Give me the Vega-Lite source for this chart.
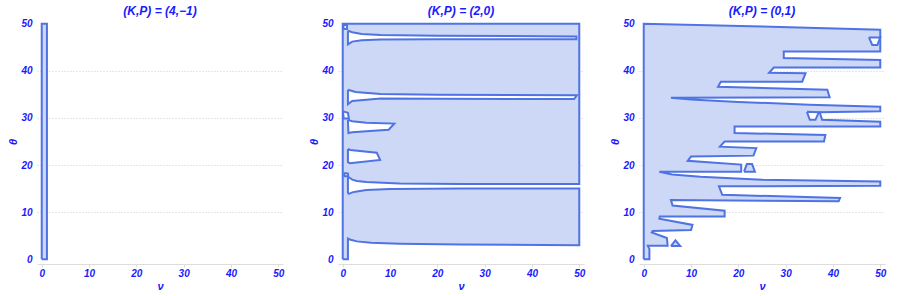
{
 "$schema": "https://vega.github.io/schema/vega-lite/v6.json",
 "background": "white",
 "padding": {"left": 7, "top": 4, "right": 5, "bottom": 0},
 "spacing": 24,
 "config": {
  "view": {"stroke": null},
  "font": "Liberation Sans",
  "axis": {"labelFont": "Liberation Sans", "labelFontWeight": "bold", "labelFontStyle": "italic", "labelColor": "#1a1aff", "labelFontSize": 10, "titleFont": "Liberation Sans", "titleFontWeight": "bold", "titleFontStyle": "italic", "titleColor": "#1a1aff", "titleFontSize": 11},
  "axisX": {"domainColor": "#dddddd", "tickColor": "#dddddd", "tickSize": 3, "grid": false, "labelPadding": 1, "titlePadding": 2},
  "axisY": {"domain": false, "ticks": false, "grid": true, "gridColor": "#cccccc", "gridDash": [1, 2], "labelPadding": 5, "titlePadding": 2},
  "title": {"font": "Liberation Sans", "fontWeight": "bold", "fontStyle": "italic", "color": "#1a1aff", "fontSize": 12, "offset": 1}
 },
 "datasets": {
  "shapes": [
   {"p":1,"g":"m1","k":"fill","i":0,"nu":0,"th":0},
   {"p":1,"g":"m1","k":"fill","i":1,"nu":1.1,"th":0},
   {"p":1,"g":"m1","k":"fill","i":2,"nu":1.1,"th":50},
   {"p":1,"g":"m1","k":"fill","i":3,"nu":0,"th":50},
   {"p":1,"g":"m1","k":"fill","i":4,"nu":0,"th":0},

   {"p":2,"g":"m2","k":"fill","i":0,"nu":0,"th":0},
   {"p":2,"g":"m2","k":"fill","i":1,"nu":1.1,"th":0},
   {"p":2,"g":"m2","k":"fill","i":2,"nu":1.1,"th":4.4},
   {"p":2,"g":"m2","k":"fill","i":3,"nu":1.5,"th":4.2},
   {"p":2,"g":"m2","k":"fill","i":4,"nu":3,"th":3.8},
   {"p":2,"g":"m2","k":"fill","i":5,"nu":6,"th":3.5},
   {"p":2,"g":"m2","k":"fill","i":6,"nu":12,"th":3.3},
   {"p":2,"g":"m2","k":"fill","i":7,"nu":25,"th":3.15},
   {"p":2,"g":"m2","k":"fill","i":8,"nu":50,"th":3.0},
   {"p":2,"g":"m2","k":"fill","i":9,"nu":50,"th":15.0},
   {"p":2,"g":"m2","k":"fill","i":10,"nu":25,"th":15.0},
   {"p":2,"g":"m2","k":"fill","i":11,"nu":10,"th":14.9},
   {"p":2,"g":"m2","k":"fill","i":12,"nu":5,"th":14.7},
   {"p":2,"g":"m2","k":"fill","i":13,"nu":3,"th":14.4},
   {"p":2,"g":"m2","k":"fill","i":14,"nu":2,"th":14.2},
   {"p":2,"g":"m2","k":"fill","i":15,"nu":1.3,"th":13.9},
   {"p":2,"g":"m2","k":"fill","i":16,"nu":1.1,"th":14.1},
   {"p":2,"g":"m2","k":"fill","i":17,"nu":1.1,"th":17.5},
   {"p":2,"g":"m2","k":"fill","i":18,"nu":1.3,"th":17.4},
   {"p":2,"g":"m2","k":"fill","i":19,"nu":2,"th":16.9},
   {"p":2,"g":"m2","k":"fill","i":20,"nu":3,"th":16.6},
   {"p":2,"g":"m2","k":"fill","i":21,"nu":5,"th":16.4},
   {"p":2,"g":"m2","k":"fill","i":22,"nu":12,"th":16.1},
   {"p":2,"g":"m2","k":"fill","i":23,"nu":25,"th":16.0},
   {"p":2,"g":"m2","k":"fill","i":24,"nu":50,"th":16.0},
   {"p":2,"g":"m2","k":"fill","i":25,"nu":50,"th":50},
   {"p":2,"g":"m2","k":"fill","i":26,"nu":0,"th":50},
   {"p":2,"g":"m2","k":"fill","i":27,"nu":0,"th":0},

   {"p":2,"g":"h1","k":"hole","i":0,"nu":1.1,"th":48.5},
   {"p":2,"g":"h1","k":"hole","i":1,"nu":2,"th":48.2},
   {"p":2,"g":"h1","k":"hole","i":2,"nu":4,"th":47.8},
   {"p":2,"g":"h1","k":"hole","i":3,"nu":8,"th":47.6},
   {"p":2,"g":"h1","k":"hole","i":4,"nu":20,"th":47.45},
   {"p":2,"g":"h1","k":"hole","i":5,"nu":49.4,"th":47.3},
   {"p":2,"g":"h1","k":"hole","i":6,"nu":49.4,"th":46.7},
   {"p":2,"g":"h1","k":"hole","i":7,"nu":20,"th":46.7},
   {"p":2,"g":"h1","k":"hole","i":8,"nu":8,"th":46.65},
   {"p":2,"g":"h1","k":"hole","i":9,"nu":4,"th":46.5},
   {"p":2,"g":"h1","k":"hole","i":10,"nu":2,"th":46.2},
   {"p":2,"g":"h1","k":"hole","i":11,"nu":1.1,"th":45.6},
   {"p":2,"g":"h1","k":"hole","i":12,"nu":1.1,"th":48.5},

   {"p":2,"g":"h2","k":"hole","i":0,"nu":1.1,"th":36.0},
   {"p":2,"g":"h2","k":"hole","i":1,"nu":2.7,"th":35.5},
   {"p":2,"g":"h2","k":"hole","i":2,"nu":8,"th":35.1},
   {"p":2,"g":"h2","k":"hole","i":3,"nu":20,"th":34.9},
   {"p":2,"g":"h2","k":"hole","i":4,"nu":49.5,"th":34.8},
   {"p":2,"g":"h2","k":"hole","i":5,"nu":48.9,"th":34.0},
   {"p":2,"g":"h2","k":"hole","i":6,"nu":20,"th":34.05},
   {"p":2,"g":"h2","k":"hole","i":7,"nu":8,"th":34.1},
   {"p":2,"g":"h2","k":"hole","i":8,"nu":2,"th":33.6},
   {"p":2,"g":"h2","k":"hole","i":9,"nu":1.1,"th":32.9},
   {"p":2,"g":"h2","k":"hole","i":10,"nu":1.1,"th":36.0},

   {"p":2,"g":"h3","k":"hole","i":0,"nu":0.05,"th":31.4},
   {"p":2,"g":"h3","k":"hole","i":1,"nu":1.1,"th":31.1},
   {"p":2,"g":"h3","k":"hole","i":2,"nu":1.3,"th":29.9},
   {"p":2,"g":"h3","k":"hole","i":3,"nu":0.2,"th":29.9},
   {"p":2,"g":"h3","k":"hole","i":4,"nu":0.05,"th":31.4},

   {"p":2,"g":"h4","k":"hole","i":0,"nu":1.1,"th":29.6},
   {"p":2,"g":"h4","k":"hole","i":1,"nu":2,"th":29.3},
   {"p":2,"g":"h4","k":"hole","i":2,"nu":5,"th":29.0},
   {"p":2,"g":"h4","k":"hole","i":3,"nu":10.9,"th":28.8},
   {"p":2,"g":"h4","k":"hole","i":4,"nu":9.7,"th":27.5},
   {"p":2,"g":"h4","k":"hole","i":5,"nu":5,"th":27.2},
   {"p":2,"g":"h4","k":"hole","i":6,"nu":2,"th":26.95},
   {"p":2,"g":"h4","k":"hole","i":7,"nu":1.2,"th":26.8},
   {"p":2,"g":"h4","k":"hole","i":8,"nu":1.1,"th":29.6},

   {"p":2,"g":"h5","k":"hole","i":0,"nu":1.1,"th":23.4},
   {"p":2,"g":"h5","k":"hole","i":1,"nu":1.6,"th":23.2},
   {"p":2,"g":"h5","k":"hole","i":2,"nu":7.2,"th":22.6},
   {"p":2,"g":"h5","k":"hole","i":3,"nu":7.9,"th":21.1},
   {"p":2,"g":"h5","k":"hole","i":4,"nu":1.5,"th":20.4},
   {"p":2,"g":"h5","k":"hole","i":5,"nu":1.1,"th":20.6},
   {"p":2,"g":"h5","k":"hole","i":6,"nu":1.1,"th":23.4},

   {"p":2,"g":"h6","k":"hole","i":0,"nu":0.3,"th":18.3},
   {"p":2,"g":"h6","k":"hole","i":1,"nu":1.1,"th":18.2},
   {"p":2,"g":"h6","k":"hole","i":2,"nu":1.1,"th":17.6},
   {"p":2,"g":"h6","k":"hole","i":3,"nu":0.4,"th":17.6},
   {"p":2,"g":"h6","k":"hole","i":4,"nu":0.3,"th":18.3},

   {"p":2,"g":"h7","k":"hole","i":0,"nu":0.1,"th":49.9},
   {"p":2,"g":"h7","k":"hole","i":1,"nu":0.9,"th":49.7},
   {"p":2,"g":"h7","k":"hole","i":2,"nu":0.9,"th":48.9},
   {"p":2,"g":"h7","k":"hole","i":3,"nu":0.2,"th":48.9},
   {"p":2,"g":"h7","k":"hole","i":4,"nu":0.1,"th":49.9},

   {"p":3,"g":"m3","k":"fill","i":0,"nu":0,"th":0},
   {"p":3,"g":"m3","k":"fill","i":1,"nu":1.2,"th":0},
   {"p":3,"g":"m3","k":"fill","i":2,"nu":1.2,"th":2.2},
   {"p":3,"g":"m3","k":"fill","i":3,"nu":0.85,"th":2.9},
   {"p":3,"g":"m3","k":"fill","i":4,"nu":5.05,"th":2.9},
   {"p":3,"g":"m3","k":"fill","i":5,"nu":4.9,"th":4.5},
   {"p":3,"g":"m3","k":"fill","i":6,"nu":1.7,"th":5.7},
   {"p":3,"g":"m3","k":"fill","i":7,"nu":1.9,"th":6.0},
   {"p":3,"g":"m3","k":"fill","i":8,"nu":10.0,"th":6.2},
   {"p":3,"g":"m3","k":"fill","i":9,"nu":10.3,"th":7.3},
   {"p":3,"g":"m3","k":"fill","i":10,"nu":3.3,"th":8.6},
   {"p":3,"g":"m3","k":"fill","i":11,"nu":3.4,"th":9.1},
   {"p":3,"g":"m3","k":"fill","i":12,"nu":17.1,"th":9.1},
   {"p":3,"g":"m3","k":"fill","i":13,"nu":17.1,"th":10.3},
   {"p":3,"g":"m3","k":"fill","i":14,"nu":6.1,"th":11.4},
   {"p":3,"g":"m3","k":"fill","i":15,"nu":5.75,"th":12.6},
   {"p":3,"g":"m3","k":"fill","i":16,"nu":41.2,"th":12.3},
   {"p":3,"g":"m3","k":"fill","i":17,"nu":41.5,"th":13.0},
   {"p":3,"g":"m3","k":"fill","i":18,"nu":16.6,"th":13.7},
   {"p":3,"g":"m3","k":"fill","i":19,"nu":15.9,"th":15.5},
   {"p":3,"g":"m3","k":"fill","i":20,"nu":50,"th":15.6},
   {"p":3,"g":"m3","k":"fill","i":21,"nu":50,"th":16.5},
   {"p":3,"g":"m3","k":"fill","i":22,"nu":25,"th":16.9},
   {"p":3,"g":"m3","k":"fill","i":23,"nu":12,"th":17.5},
   {"p":3,"g":"m3","k":"fill","i":24,"nu":6,"th":18.0},
   {"p":3,"g":"m3","k":"fill","i":25,"nu":3.3,"th":18.6},
   {"p":3,"g":"m3","k":"fill","i":26,"nu":20.6,"th":18.6},
   {"p":3,"g":"m3","k":"fill","i":27,"nu":20.6,"th":20.1},
   {"p":3,"g":"m3","k":"fill","i":28,"nu":9.3,"th":20.9},
   {"p":3,"g":"m3","k":"fill","i":29,"nu":10.0,"th":21.8},
   {"p":3,"g":"m3","k":"fill","i":30,"nu":23.2,"th":22.0},
   {"p":3,"g":"m3","k":"fill","i":31,"nu":23.8,"th":23.6},
   {"p":3,"g":"m3","k":"fill","i":32,"nu":16.1,"th":23.9},
   {"p":3,"g":"m3","k":"fill","i":33,"nu":17.1,"th":25.0},
   {"p":3,"g":"m3","k":"fill","i":34,"nu":38.1,"th":25.0},
   {"p":3,"g":"m3","k":"fill","i":35,"nu":38.4,"th":26.4},
   {"p":3,"g":"m3","k":"fill","i":36,"nu":19.2,"th":26.8},
   {"p":3,"g":"m3","k":"fill","i":37,"nu":19.2,"th":28.2},
   {"p":3,"g":"m3","k":"fill","i":38,"nu":50,"th":28.2},
   {"p":3,"g":"m3","k":"fill","i":39,"nu":50,"th":29.2},
   {"p":3,"g":"m3","k":"fill","i":40,"nu":37.7,"th":29.6},
   {"p":3,"g":"m3","k":"fill","i":41,"nu":37.2,"th":31.2},
   {"p":3,"g":"m3","k":"fill","i":42,"nu":50,"th":31.4},
   {"p":3,"g":"m3","k":"fill","i":43,"nu":50,"th":32.4},
   {"p":3,"g":"m3","k":"fill","i":44,"nu":35,"th":32.8},
   {"p":3,"g":"m3","k":"fill","i":45,"nu":20,"th":33.4},
   {"p":3,"g":"m3","k":"fill","i":46,"nu":10,"th":33.9},
   {"p":3,"g":"m3","k":"fill","i":47,"nu":5.75,"th":34.3},
   {"p":3,"g":"m3","k":"fill","i":48,"nu":39.3,"th":34.4},
   {"p":3,"g":"m3","k":"fill","i":49,"nu":38.8,"th":36.0},
   {"p":3,"g":"m3","k":"fill","i":50,"nu":15.7,"th":36.6},
   {"p":3,"g":"m3","k":"fill","i":51,"nu":16.3,"th":37.7},
   {"p":3,"g":"m3","k":"fill","i":52,"nu":33.5,"th":37.7},
   {"p":3,"g":"m3","k":"fill","i":53,"nu":34.2,"th":39.5},
   {"p":3,"g":"m3","k":"fill","i":54,"nu":26.5,"th":39.6},
   {"p":3,"g":"m3","k":"fill","i":55,"nu":27.5,"th":40.7},
   {"p":3,"g":"m3","k":"fill","i":56,"nu":50,"th":40.7},
   {"p":3,"g":"m3","k":"fill","i":57,"nu":50,"th":42.3},
   {"p":3,"g":"m3","k":"fill","i":58,"nu":29.6,"th":42.7},
   {"p":3,"g":"m3","k":"fill","i":59,"nu":29.6,"th":44.1},
   {"p":3,"g":"m3","k":"fill","i":60,"nu":50,"th":44.1},
   {"p":3,"g":"m3","k":"fill","i":61,"nu":50,"th":48.7},
   {"p":3,"g":"m3","k":"fill","i":62,"nu":25,"th":49.4},
   {"p":3,"g":"m3","k":"fill","i":63,"nu":0,"th":50},
   {"p":3,"g":"m3","k":"fill","i":64,"nu":0,"th":0},

   {"p":3,"g":"i1","k":"fill","i":0,"nu":5.75,"th":2.8},
   {"p":3,"g":"i1","k":"fill","i":1,"nu":6.7,"th":4.0},
   {"p":3,"g":"i1","k":"fill","i":2,"nu":7.7,"th":2.8},
   {"p":3,"g":"i1","k":"fill","i":3,"nu":5.75,"th":2.8},

   {"p":3,"g":"i2","k":"fill","i":0,"nu":21.2,"th":18.6},
   {"p":3,"g":"i2","k":"fill","i":1,"nu":21.8,"th":20.2},
   {"p":3,"g":"i2","k":"fill","i":2,"nu":22.9,"th":20.2},
   {"p":3,"g":"i2","k":"fill","i":3,"nu":23.5,"th":18.6},
   {"p":3,"g":"i2","k":"fill","i":4,"nu":21.2,"th":18.6},

   {"p":3,"g":"h8","k":"hole","i":0,"nu":47.6,"th":47.1},
   {"p":3,"g":"h8","k":"hole","i":1,"nu":50,"th":47.1},
   {"p":3,"g":"h8","k":"hole","i":2,"nu":49.4,"th":45.5},
   {"p":3,"g":"h8","k":"hole","i":3,"nu":48.3,"th":45.5},
   {"p":3,"g":"h8","k":"hole","i":4,"nu":47.6,"th":47.1},

   {"p":3,"g":"h9","k":"hole","i":0,"nu":34.5,"th":31.3},
   {"p":3,"g":"h9","k":"hole","i":1,"nu":37.0,"th":31.2},
   {"p":3,"g":"h9","k":"hole","i":2,"nu":36.3,"th":29.6},
   {"p":3,"g":"h9","k":"hole","i":3,"nu":35.1,"th":29.6},
   {"p":3,"g":"h9","k":"hole","i":4,"nu":34.5,"th":31.3}
  ]
 },
 "hconcat": [
  {
   "width": 246, "height": 245,
   "title": "(K,P) = (4,−1)",
   "data": {"name": "shapes"},
   "transform": [{"filter": "datum.p == 1"}],
   "encoding": {
    "x": {"field": "nu", "type": "quantitative", "scale": {"domain": [-1, 51], "nice": false, "zero": false}, "axis": {"values": [0, 10, 20, 30, 40, 50], "title": "ν"}},
    "y": {"field": "th", "type": "quantitative", "scale": {"domain": [-1, 51], "nice": false, "zero": false}, "axis": {"values": [0, 10, 20, 30, 40, 50], "title": "θ", "gridOpacity": {"condition": {"test": "datum.value == 0 || datum.value == 50", "value": 0}, "value": 1}}},
    "detail": {"field": "g"},
    "order": {"field": "i", "type": "quantitative"}
   },
   "layer": [
    {"transform": [{"filter": "datum.k == 'fill'"}], "mark": {"type": "line", "fill": "#cdd8f6", "stroke": "#4f73e3", "strokeWidth": 2}},
    {"transform": [{"filter": "datum.k == 'hole'"}], "mark": {"type": "line", "fill": "white", "stroke": "#4f73e3", "strokeWidth": 2}}
   ]
  },
  {
   "width": 246, "height": 245,
   "title": "(K,P) = (2,0)",
   "data": {"name": "shapes"},
   "transform": [{"filter": "datum.p == 2"}],
   "encoding": {
    "x": {"field": "nu", "type": "quantitative", "scale": {"domain": [-1, 51], "nice": false, "zero": false}, "axis": {"values": [0, 10, 20, 30, 40, 50], "title": "ν"}},
    "y": {"field": "th", "type": "quantitative", "scale": {"domain": [-1, 51], "nice": false, "zero": false}, "axis": {"values": [0, 10, 20, 30, 40, 50], "title": "θ", "gridOpacity": {"condition": {"test": "datum.value == 0 || datum.value == 50", "value": 0}, "value": 1}}},
    "detail": {"field": "g"},
    "order": {"field": "i", "type": "quantitative"}
   },
   "layer": [
    {"transform": [{"filter": "datum.k == 'fill'"}], "mark": {"type": "line", "fill": "#cdd8f6", "stroke": "#4f73e3", "strokeWidth": 2}},
    {"transform": [{"filter": "datum.k == 'hole'"}], "mark": {"type": "line", "fill": "white", "stroke": "#4f73e3", "strokeWidth": 2}}
   ]
  },
  {
   "width": 246, "height": 245,
   "title": "(K,P) = (0,1)",
   "data": {"name": "shapes"},
   "transform": [{"filter": "datum.p == 3"}],
   "encoding": {
    "x": {"field": "nu", "type": "quantitative", "scale": {"domain": [-1, 51], "nice": false, "zero": false}, "axis": {"values": [0, 10, 20, 30, 40, 50], "title": "ν"}},
    "y": {"field": "th", "type": "quantitative", "scale": {"domain": [-1, 51], "nice": false, "zero": false}, "axis": {"values": [0, 10, 20, 30, 40, 50], "title": "θ", "gridOpacity": {"condition": {"test": "datum.value == 0 || datum.value == 50", "value": 0}, "value": 1}}},
    "detail": {"field": "g"},
    "order": {"field": "i", "type": "quantitative"}
   },
   "layer": [
    {"transform": [{"filter": "datum.k == 'fill'"}], "mark": {"type": "line", "fill": "#cdd8f6", "stroke": "#4f73e3", "strokeWidth": 2}},
    {"transform": [{"filter": "datum.k == 'hole'"}], "mark": {"type": "line", "fill": "white", "stroke": "#4f73e3", "strokeWidth": 2}}
   ]
  }
 ]
}
